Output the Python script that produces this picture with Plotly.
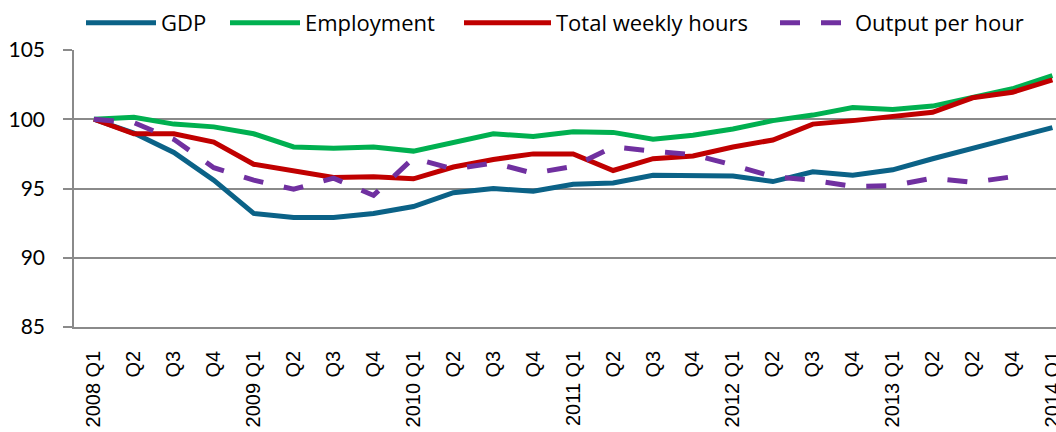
import plotly.graph_objects as go

tick_labels = ["2008 Q1", "Q2", "Q3", "Q4",
               "2009 Q1", "Q2", "Q3", "Q4",
               "2010 Q1", "Q2", "Q3", "Q4",
               "2011 Q1", "Q2", "Q3", "Q4",
               "2012 Q1", "Q2", "Q3", "Q4",
               "2013 Q1", "Q2", "Q2", "Q4",
               "2014 Q1"]

gdp = [100.0, 99.0, 97.6, 95.6, 93.2, 92.9, 92.9, 93.2, 93.7, 94.7,
       95.0, 94.8, 95.3, 95.4, 95.95, 95.9, 95.9, 95.5, 96.2, 95.95,
       96.35, 97.15, 97.9, 98.6, 99.4]
employment = [100.0, 100.15, 99.65, 99.45, 98.95, 98.0, 97.9, 98.0, 97.7, 98.3,
              98.95, 98.75, 99.1, 99.05, 98.55, 98.85, 99.3, 99.9, 100.3, 100.85,
              100.7, 100.95, 101.6, 102.2, 103.15]
hours = [100.0, 98.95, 98.95, 98.35, 96.75, 96.3, 95.8, 95.85, 95.7, 96.55,
         97.1, 97.5, 97.5, 96.3, 97.15, 97.35, 98.0, 98.5, 99.65, 99.9,
         100.2, 100.5, 101.55, 101.95, 102.85]
output_per_hour = [100.0, 99.75, 98.55, 96.5, 95.6, 94.95, 95.75, 94.5, 97.2, 96.4,
                   96.85, 96.1, 96.6, 98.0, 97.7, 97.45, 96.7, 95.85, 95.6, 95.15,
                   95.2, 95.75, 95.45, 95.85]

x = list(range(len(tick_labels)))

series = [
    ("GDP", gdp, "#0b6287", "solid", "legend"),
    ("Employment", employment, "#00b050", "solid", "legend2"),
    ("Total weekly hours", hours, "#c00000", "solid", "legend3"),
    ("Output per hour", output_per_hour, "#7030a0", "20px,21px", "legend4"),
]

fig = go.Figure()
for name, vals, color, dash, leg in series:
    fig.add_trace(go.Scatter(
        x=x[:len(vals)], y=vals, name=name, mode="lines",
        line=dict(color=color, width=5, dash=dash),
        legend=leg,
    ))

W, H = 1056, 432
legend_font = dict(family="Open Sans, sans-serif", size=22, color="#000000")


def legend_at(px_left, item_w=70):
    return dict(
        orientation="h", xref="container", yref="container",
        x=px_left / W, xanchor="left",
        y=1 - 23 / H, yanchor="middle",
        font=legend_font, itemwidth=item_w,
        bgcolor="rgba(0,0,0,0)", borderwidth=0,
    )


axis_grey = "#8a8a8a"
fig.update_layout(
    width=W, height=H,
    margin=dict(l=74, r=0, t=50, b=105, autoexpand=False),
    paper_bgcolor="white", plot_bgcolor="white",
    showlegend=True,
    legend=legend_at(81),
    legend2=legend_at(225),
    legend3=legend_at(459, 87),
    legend4=legend_at(775),
    xaxis=dict(
        range=[-0.5, 24.09],
        tickmode="array", tickvals=x, ticktext=tick_labels,
        tickangle=-90,
        tickfont=dict(family="Liberation Sans, Arial, sans-serif", size=20, color="#000000"),
        showgrid=False, zeroline=False,
        showline=True, linecolor=axis_grey, linewidth=1.5,
        ticks="", ticklabelstandoff=14,
        ticklabeloverflow="allow",
        automargin=False,
    ),
    yaxis=dict(
        range=[85, 105], tickvals=[85, 90, 95, 100, 105],
        tickfont=dict(family="Lato, sans-serif", size=21, color="#000000"),
        showgrid=True, gridcolor=axis_grey, gridwidth=1.5,
        zeroline=False,
        showline=True, linecolor=axis_grey, linewidth=1.5,
        ticks="outside", ticklen=9, tickcolor=axis_grey, tickwidth=1.5,
        ticklabelstandoff=14,
        automargin=False,
    ),
)

fig.write_html(
    "out.html",
    config={"displayModeBar": False},
    post_script="document.body.style.margin='0';document.body.style.overflow='hidden';",
)
